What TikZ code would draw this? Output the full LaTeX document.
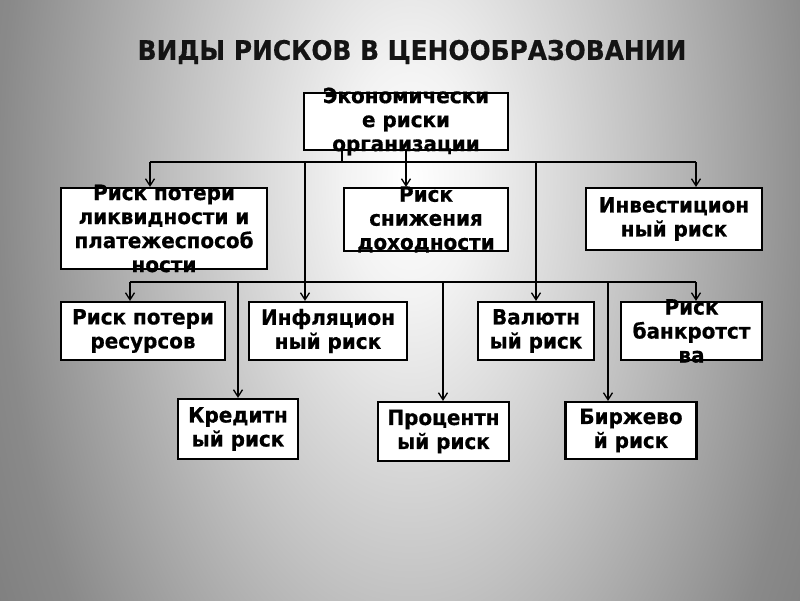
\documentclass[tikz,border=0pt]{standalone}
\usepackage{fontspec}
\setmainfont{DejaVu Sans}
\newfontfamily\boxfont{DejaVu Sans}[FakeStretch=0.95,FakeBold=0.6]
\newfontfamily\titlefont{DejaVu Sans}[FakeStretch=0.92,FakeBold=0.4]
\usetikzlibrary{arrows.meta}
\definecolor{bgA}{gray}{1.0}
\definecolor{bgB}{gray}{0.95}
\definecolor{bgC}{gray}{0.76}
\definecolor{bgD}{gray}{0.54}
\definecolor{bgE}{gray}{0.47}
\pgfdeclareradialshading{bgshade}{\pgfpoint{0bp}{0bp}}{color(0bp)=(bgA); color(4bp)=(bgB); color(14bp)=(bgC); color(25bp)=(bgD); color(32bp)=(bgE); color(50bp)=(bgE)}
\tikzset{
  riskbox/.style={draw=black, line width=2.2pt, fill=white, inner sep=0pt},
  risktxt/.style={font=\boxfont\fontsize{21}{24}\selectfont\bfseries, align=center, inner sep=0pt, text=black},
  ttl/.style={font=\titlefont\fontsize{27}{30}\selectfont\bfseries, inner sep=0pt, text=black!92},
  conn/.style={line width=2pt, draw=black},
  arr/.style={conn, -{Straight Barb[length=7pt,width=9pt,line width=1.3pt]}}
}
\begin{document}
\begin{tikzpicture}[x=1pt,y=-1pt]
\useasboundingbox (0,0) rectangle (800,600);
\begin{scope}
\clip (0,0) rectangle (800,600);
\shade[shading=bgshade] (0,-570) rectangle (820,930);
\end{scope}

\node[ttl] (title) at (412,52) {ВИДЫ РИСКОВ В ЦЕНООБРАЗОВАНИИ};

% boxes
\node[riskbox, minimum width=204pt, minimum height=57pt] (top) at (406,121.5) {};
\node[riskbox, minimum width=206pt, minimum height=81pt] (liq) at (164,228.5) {};
\node[riskbox, minimum width=164pt, minimum height=63pt] (inc) at (426,219.5) {};
\node[riskbox, minimum width=176pt, minimum height=62pt] (inv) at (674,219) {};
\node[riskbox, minimum width=164pt, minimum height=58pt] (res) at (143,331) {};
\node[riskbox, minimum width=158pt, minimum height=58pt] (inf) at (328,331) {};
\node[riskbox, minimum width=116pt, minimum height=58pt] (cur) at (536,331) {};
\node[riskbox, minimum width=141pt, minimum height=58pt] (bank) at (691.5,331) {};
\node[riskbox, minimum width=120pt, minimum height=60pt] (cred) at (238,429) {};
\node[riskbox, minimum width=131pt, minimum height=59pt] (pct) at (443.5,431.5) {};
\node[riskbox, minimum width=131pt, minimum height=57pt] (exch) at (631,430.5) {};

% junction coordinates
\coordinate (h1L) at (150,162);
\coordinate (h1R) at (696,162);
\coordinate (t1) at (305,162);
\coordinate (t2) at (536,162);
\coordinate (j0) at (342,162);
\coordinate (h2L) at (130,282);
\coordinate (h2R) at (696,282);
\coordinate (k1) at (238,282);
\coordinate (k2) at (443,282);
\coordinate (k3) at (608,282);

% connectors
\draw[conn] (h1L) -- (h1R);
\draw[conn] (top.south -| j0) -- (j0);
\draw[arr] (h1L) -- (h1L |- liq.north);
\draw[arr] (top.south) -- (top.south |- inc.north);
\draw[arr] (h1R) -- (h1R |- inv.north);
\draw[arr] (t1) -- (t1 |- inf.north);
\draw[arr] (t2) -- (t2 |- cur.north);
\draw[conn] (h2L) -- (h2R);
\draw[arr] (h2L) -- (h2L |- res.north);
\draw[arr] (h2R) -- (h2R |- bank.north);
\draw[arr] (k1) -- (k1 |- cred.north);
\draw[arr] (k2) -- (k2 |- pct.north);
\draw[arr] (k3) -- (k3 |- exch.north);

% texts
\node[risktxt] (ttop) at (top.center) {Экономически\\е риски\\организации};
\node[risktxt] (tliq) at (liq.center) {Риск потери\\ликвидности и\\платежеспособ\\ности};
\node[risktxt] (tinc) at (inc.center) {Риск\\снижения\\доходности};
\node[risktxt] (tinv) at (inv.center) {Инвестицион\\ный риск};
\node[risktxt] (tres) at (res.center) {Риск потери\\ресурсов};
\node[risktxt] (tinf) at (inf.center) {Инфляцион\\ный риск};
\node[risktxt] (tcur) at (cur.center) {Валютн\\ый риск};
\node[risktxt] (tbank) at (bank.center) {Риск\\банкротст\\ва};
\node[risktxt] (tcred) at (cred.center) {Кредитн\\ый риск};
\node[risktxt] (tpct) at (pct.center) {Процентн\\ый риск};
\node[risktxt] (texch) at (exch.center) {Биржево\\й риск};
\end{tikzpicture}
\end{document}
